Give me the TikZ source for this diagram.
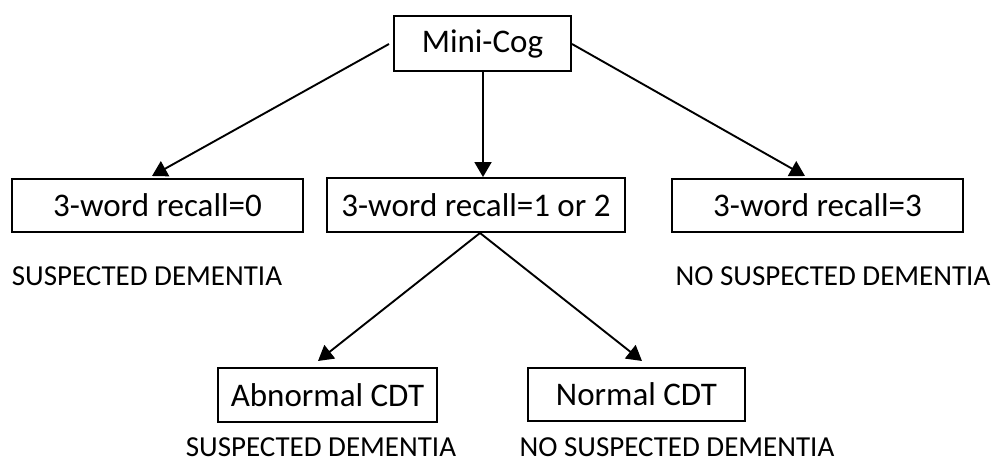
\documentclass[tikz,border=0pt]{standalone}
\usepackage{fontspec}
\setmainfont{Carlito}
\usetikzlibrary{arrows.meta}

\begin{document}
\begin{tikzpicture}[x=1pt, y=-1pt,
  box/.style={draw, line width=1.9pt, inner sep=0pt, font=\fontsize{33}{40}\selectfont},
  verdict/.style={inner sep=0pt, font=\fontsize{29}{35}\selectfont},
  link/.style={line width=1.9pt, -{Triangle[length=15pt,width=17pt]}}]
  % Keep the page as large as the original
  \useasboundingbox (0,0) rectangle (991,462);

  % The boxes
  \node[box, minimum width=177pt, minimum height=55pt] (minicog) at (482.5,43.5) {Mini-Cog};
  \node[box, minimum width=291pt, minimum height=53pt] (recall0) at (157.5,205.5) {3-word recall=0};
  \node[box, minimum width=298pt, minimum height=54pt] (recall12) at (476,205) {3-word recall=1 or 2};
  \node[box, minimum width=291pt, minimum height=53pt] (recall3) at (817.5,205.5) {3-word recall=3};
  \node[box, minimum width=219pt, minimum height=54pt] (abncdt) at (327.5,395) {Abnormal CDT};
  \node[box, minimum width=217pt, minimum height=53pt] (normcdt) at (636.5,394.5) {Normal CDT};

  % The verdicts under the boxes
  \node[verdict] (sus0) at (147,276) {SUSPECTED DEMENTIA};
  \node[verdict] (nosus3) at (833,276) {NO SUSPECTED DEMENTIA};
  \node[verdict] (susabn) at (321,447) {SUSPECTED DEMENTIA};
  \node[verdict] (nosusnorm) at (677,447) {NO SUSPECTED DEMENTIA};

  % Where the arrows start and end
  \coordinate (fromleft) at (389,44);
  \coordinate (fromright) at (572,44);
  \coordinate (fromsplit) at (480,233);
  \coordinate (to0) at (152,176);
  \coordinate (to3) at (805,176);
  \coordinate (toabn) at (318,361);
  \coordinate (tonorm) at (642,361);

  % Arrows
  \draw[link] (fromleft) -- (to0);
  \draw[link] (minicog.south -| recall12.north) ++(7,0) -- ([xshift=7pt]recall12.north);
  \draw[link] (fromright) -- (to3);
  \draw[link] (fromsplit) -- (toabn);
  \draw[link] (fromsplit) -- (tonorm);
\end{tikzpicture}
\end{document}
